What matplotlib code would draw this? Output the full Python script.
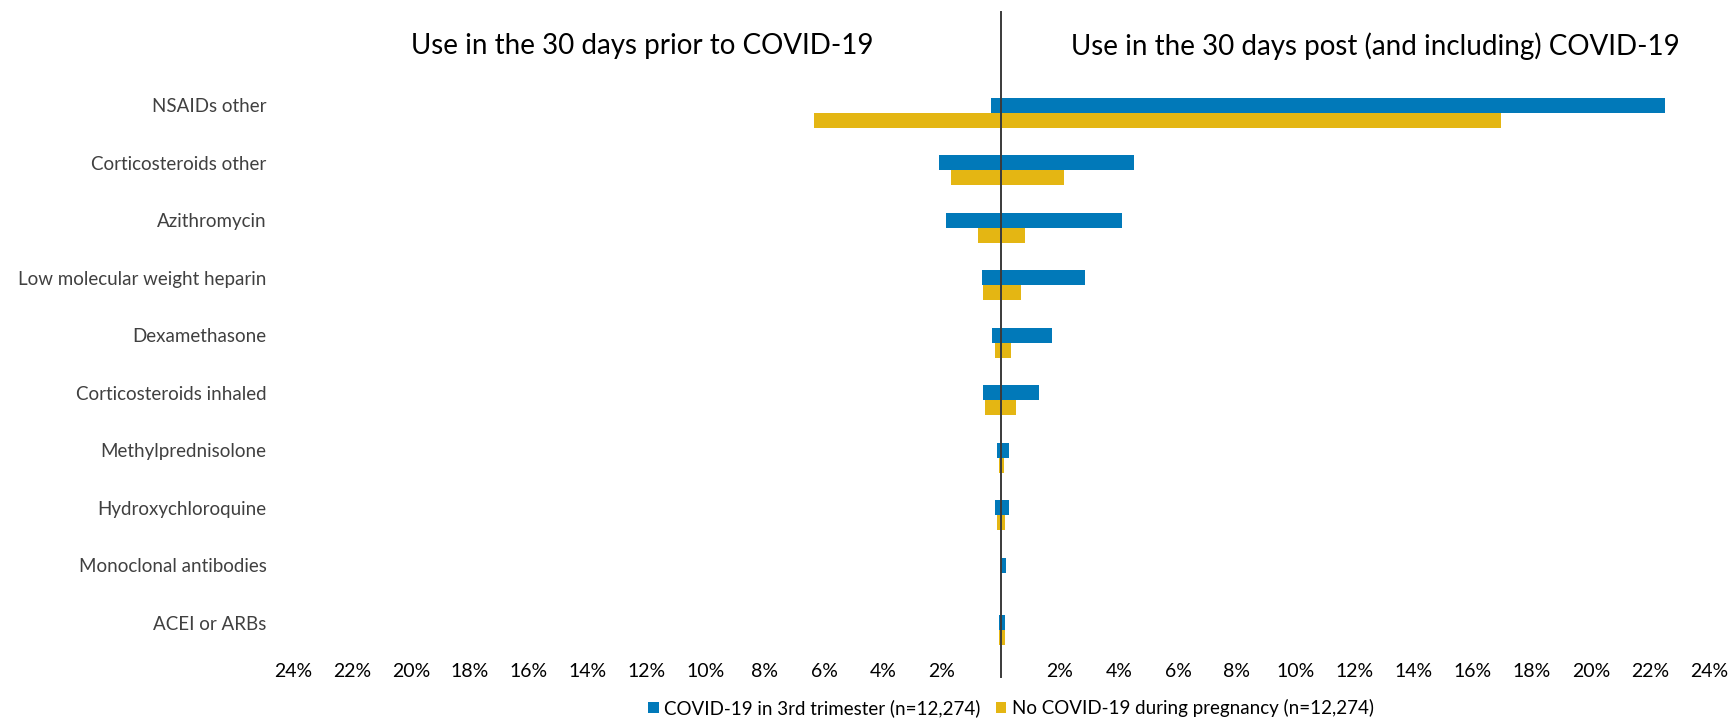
import matplotlib
matplotlib.use("Agg")
import matplotlib.pyplot as plt
from matplotlib.patches import Patch
from matplotlib.ticker import FixedLocator, FuncFormatter
import numpy as np

plt.rcParams['font.family'] = ['Lato', 'DejaVu Sans']

categories = ["NSAIDs other", "Corticosteroids other", "Azithromycin",
              "Low molecular weight heparin", "Dexamethasone", "Corticosteroids inhaled",
              "Methylprednisolone", "Hydroxychloroquine", "Monoclonal antibodies",
              "ACEI or ARBs"]
# percentages: prior (left side) and post (right side)
covid_prior = [0.35, 2.1, 1.85, 0.65, 0.3, 0.6, 0.12, 0.2, 0.0, 0.08]
covid_post = [22.5, 4.5, 4.1, 2.85, 1.73, 1.3, 0.28, 0.28, 0.18, 0.15]
nocovid_prior = [6.35, 1.7, 0.77, 0.62, 0.2, 0.55, 0.08, 0.12, 0.0, 0.08]
nocovid_post = [16.95, 2.15, 0.8, 0.67, 0.35, 0.52, 0.1, 0.15, 0.0, 0.15]
series_names = ["COVID-19 in 3rd trimester (n=12,274)",
                "No COVID-19 during pregnancy (n=12,274)"]
tick_values = list(range(-24, 25, 2))
title_left = "Use in the 30 days prior to COVID-19"
title_right = "Use in the 30 days post (and including) COVID-19"

BLUE = "#0179B9"
YELLOW = "#E4B613"

W, H = 1731, 720
fig = plt.figure(figsize=(W / 100, H / 100), dpi=100)
ax_left, ax_right = 293, 1709
ax_top, ax_bot = 84, 659
ax = fig.add_axes([ax_left / W, 1 - ax_bot / H, (ax_right - ax_left) / W, (ax_bot - ax_top) / H])

n = len(categories)
y = np.arange(n)
h = 0.26
ax.barh(y - h / 2, covid_post, height=h, color=BLUE, linewidth=0)
ax.barh(y - h / 2, [-v for v in covid_prior], height=h, color=BLUE, linewidth=0)
ax.barh(y + h / 2, nocovid_post, height=h, color=YELLOW, linewidth=0)
ax.barh(y + h / 2, [-v for v in nocovid_prior], height=h, color=YELLOW, linewidth=0)

ax.set_xlim(-24, 24)
ax.set_ylim(n - 0.5, -0.5)

# center line extending beyond plot area
row_px = (ax_bot - ax_top) / n
y_top = -0.5 - (ax_top - 12) / row_px
y_bot = n - 0.5 + (677 - ax_bot) / row_px
ax.plot([0, 0], [y_top, y_bot], color="#3a3a3a", lw=1.4, clip_on=False, zorder=5)

ax.set_yticks(y - h / 2)
ax.set_yticklabels(categories, fontsize=13.5, color="#404040")
ax.tick_params(axis='y', length=0, pad=19)

ax.xaxis.set_major_locator(FixedLocator(tick_values))
ax.xaxis.set_major_formatter(FuncFormatter(lambda v, p: "" if v == 0 else f"{abs(int(round(v)))}%"))
ax.tick_params(axis='x', length=0, pad=3, labelsize=14, colors="black")

for s in ax.spines.values():
    s.set_visible(False)

fig.text(642 / W, 1 - 46 / H, title_left, ha='center', va='center', fontsize=20, color='black')
fig.text(1375 / W, 1 - 46 / H, title_right, ha='center', va='center', fontsize=20, color='black')

handles = [Patch(facecolor=BLUE, edgecolor='none'), Patch(facecolor=YELLOW, edgecolor='none')]
fig.legend(handles, series_names, loc='center', bbox_to_anchor=(1011 / W, 1 - 708 / H), ncol=2,
           frameon=False, fontsize=13.5, handlelength=0.55, handleheight=0.55, handletextpad=0.3,
           columnspacing=0.8, borderpad=0)

fig.savefig("out.png", dpi=100)
